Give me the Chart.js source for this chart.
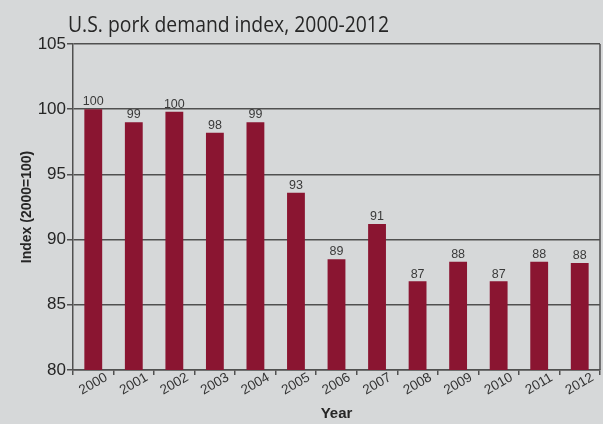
<!DOCTYPE html>
<html>
<head>
<meta charset="utf-8">
<script src="https://cdn.jsdelivr.net/npm/chart.js@4.4.1/dist/chart.umd.min.js"></script>
<style>
  html, body { margin: 0; padding: 0; background: #d6d8d9; }
  #wrap { width: 603px; height: 424px; position: relative; }
</style>
</head>
<body>
<div id="wrap"><canvas id="barChart"></canvas></div>
<script>
// données du graphique
const years = ['2000', '2001', '2002', '2003', '2004', '2005', '2006', '2007', '2008', '2009', '2010', '2011', '2012'];
const demandIndex = [100.0, 99.0, 99.8, 98.2, 99.0, 93.6, 88.5, 91.2, 86.8, 88.3, 86.8, 88.3, 88.2];
const barLabels = ['100', '99', '100', '98', '99', '93', '89', '91', '87', '88', '87', '88', '88'];
const yTicks = [80, 85, 90, 95, 100, 105];

const chartTitle = 'U.S. pork demand index, 2000-2012';

// titre, étiquettes des barres, années inclinées et bordure droite
const decorPlugin = {
  id: 'decor',
  afterDraw(chart) {
    const ctx = chart.ctx;
    const area = chart.chartArea;
    const x = chart.scales.x;
    ctx.save();

    // bordure droite
    ctx.strokeStyle = '#505050';
    ctx.lineWidth = 1.5;
    ctx.beginPath();
    ctx.moveTo(area.right, area.top);
    ctx.lineTo(area.right, area.bottom);
    ctx.stroke();

    // titre (un peu resserré comme l'original)
    ctx.fillStyle = '#262626';
    ctx.font = '21px "Open Sans"';
    ctx.textAlign = 'left';
    ctx.textBaseline = 'alphabetic';
    ctx.fillText(chartTitle, 68, 32, 321);

    // valeurs au-dessus des barres
    ctx.font = '12.5px "Liberation Sans"';
    ctx.fillStyle = '#3a3a3a';
    ctx.textAlign = 'center';
    ctx.textBaseline = 'bottom';
    const meta = chart.getDatasetMeta(0);
    meta.data.forEach((bar, i) => {
      ctx.fillText(barLabels[i], bar.x, bar.y - 1);
    });

    // années inclinées
    ctx.font = '13.5px "Liberation Sans"';
    ctx.fillStyle = '#333333';
    years.forEach((yr, i) => {
      const px = x.getPixelForValue(i);
      ctx.save();
      ctx.translate(px, area.bottom + 14);
      ctx.rotate(-30 * Math.PI / 180);
      ctx.textAlign = 'center';
      ctx.textBaseline = 'middle';
      ctx.fillText(yr, 0, 0);
      ctx.restore();
    });
    ctx.restore();
  }
};

new Chart(document.querySelector('#barChart'), {
  type: 'bar',
  data: {
    labels: years,
    datasets: [{
      label: 'Index',
      data: demandIndex,
      backgroundColor: '#8a1531',
      borderWidth: 0,
      categoryPercentage: 1,
      barPercentage: 0.44
    }]
  },
  options: {
    responsive: true,
    maintainAspectRatio: false,
    animation: false,
    layout: { padding: { top: 44, right: 3, left: 0, bottom: 0 } },
    plugins: {
      legend: { display: false },
      tooltip: { enabled: false }
    },
    scales: {
      x: {
        offset: true,
        grid: {
          offset: true,
          drawOnChartArea: false,
          drawTicks: true,
          tickLength: 5,
          color: '#505050',
          lineWidth: 1.5
        },
        border: { display: true, color: '#505050', width: 1.5 },
        ticks: { color: 'rgba(0,0,0,0)', maxRotation: 0, minRotation: 0, autoSkip: false },
        title: {
          display: true,
          text: 'Year',
          color: '#262626',
          font: { family: 'Liberation Sans', size: 15, weight: 'bold' },
          padding: { top: 0, bottom: 1 }
        },
        afterFit: s => { s.height = 54; }
      },
      y: {
        min: 80,
        max: 105,
        afterBuildTicks: s => { s.ticks = yTicks.map(v => ({ value: v })); },
        grid: {
          color: '#505050',
          lineWidth: 1.5,
          tickLength: 6
        },
        border: { display: true, color: '#505050', width: 1.5 },
        ticks: {
          color: '#262626',
          padding: 1,
          font: { family: 'Liberation Sans', size: 17 }
        },
        title: {
          display: true,
          text: 'Index (2000=100)',
          color: '#262626',
          font: { family: 'Liberation Sans', size: 14, weight: 'bold' },
          padding: { top: 19, bottom: 0 }
        },
        afterFit: s => { s.width = 73; }
      }
    }
  },
  plugins: [decorPlugin]
});
</script>
</body>
</html>
